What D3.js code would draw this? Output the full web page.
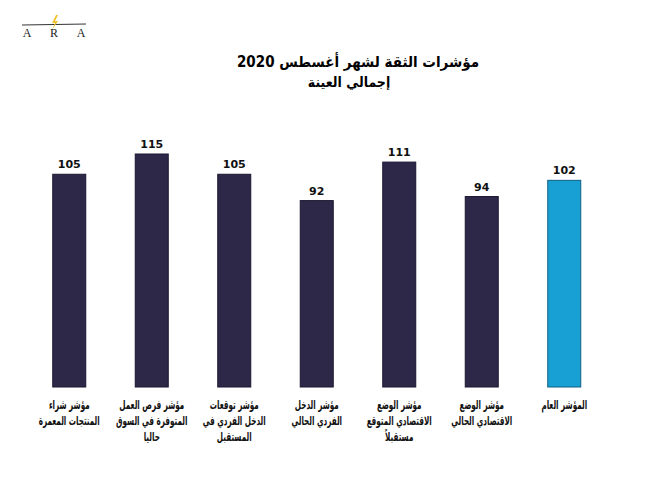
<!DOCTYPE html>
<html>
<head>
<meta charset="utf-8">
<script src="https://cdn.jsdelivr.net/npm/d3@7"></script>
<style>
  body { margin: 0; background: #fff; }
  svg { display: block; }
</style>
</head>
<body>
<script>
// values, left to right
const categories = [
  ["مؤشر شراء", "المنتجات المعمرة"],
  ["مؤشر فرص العمل", "المتوفرة في السوق", "حاليا"],
  ["مؤشر توقعات", "الدخل الفردي في", "المستقبل"],
  ["مؤشر الدخل", "الفردي الحالي"],
  ["مؤشر الوضع", "الاقتصادي المتوقع", "مستقبلاً"],
  ["مؤشر الوضع", "الاقتصادي الحالي"],
  ["المؤشر العام"]
]
const values = [105, 115, 105, 92, 111, 94, 102]
const highlight = [false, false, false, false, false, false, true]
const title = "مؤشرات الثقة لشهر أغسطس 2020"
const subtitle = "إجمالي العينة"

const w = 667, h = 500
const font = "'DejaVu Sans Condensed', 'DejaVu Sans', sans-serif"

const svg = d3.select("body").append("svg")
  .attr("width", w)
  .attr("height", h)

const data = values.map((v, i) => ({ i: i, value: v, label: categories[i], hl: highlight[i] }))

const xScale = d3.scaleBand()
  .domain(d3.range(values.length))
  .range([28, 605.5])
  .paddingInner(0.6)
  .paddingOuter(0.3)

const yScale = d3.scaleLinear()
  .domain([0, 115])
  .range([387, 154])

// logo
const logo = svg.append("g")
logo.append("line")
  .attr("x1", 22).attr("x2", 86)
  .attr("y1", 25).attr("y2", 24)
  .attr("stroke", "#333").attr("stroke-width", 1)
logo.append("path")
  .attr("d", "M56,15 L52,23 L55,23 L52,30 L58,21 L55,21 L58,15 Z")
  .attr("fill", "#f2c230")
logo.selectAll("text")
  .data(["A", "R", "A"])
  .enter()
  .append("text")
  .attr("x", (d, i) => 27 + i * 27)
  .attr("y", 37)
  .attr("text-anchor", "middle")
  .style("font-family", "'Liberation Serif', serif")
  .style("font-size", "12px")
  .style("fill", "#222")
  .text(d => d)

// titles
svg.append("text")
  .attr("x", 358).attr("y", 67)
  .attr("text-anchor", "middle")
  .attr("direction", "rtl")
  .style("font-family", font)
  .style("font-stretch", "condensed")
  .style("font-weight", "bold")
  .style("font-size", "15px")
  .text(title)

svg.append("text")
  .attr("x", 349).attr("y", 87)
  .attr("text-anchor", "middle")
  .attr("direction", "rtl")
  .style("font-family", font)
  .style("font-stretch", "condensed")
  .style("font-weight", "bold")
  .style("font-size", "14px")
  .text(subtitle)

// bars
svg.selectAll("rect.bar")
  .data(data)
  .enter()
  .append("rect")
  .attr("class", "bar")
  .attr("x", d => xScale(d.i))
  .attr("y", d => yScale(d.value))
  .attr("width", xScale.bandwidth())
  .attr("height", d => yScale(0) - yScale(d.value))
  .attr("fill", d => d.hl ? "#189fd3" : "#2e2848")
  .attr("stroke", d => d.hl ? "#0f5f80" : "#1a1630")
  .attr("stroke-width", 1)

// value labels
svg.selectAll("text.val")
  .data(data)
  .enter()
  .append("text")
  .attr("class", "val")
  .attr("x", d => xScale(d.i) + xScale.bandwidth() / 2)
  .attr("y", d => yScale(d.value) - 6)
  .attr("text-anchor", "middle")
  .style("font-family", "'DejaVu Sans', sans-serif")
  .style("font-weight", "bold")
  .style("font-size", "11px")
  .style("fill", "#111")
  .text(d => d.value)

// category labels, one text per line, squeezed to match the narrow source font
const cat = svg.selectAll("g.cat")
  .data(data)
  .enter()
  .append("g")
  .attr("class", "cat")
  .attr("transform", d => "translate(" + (xScale(d.i) + xScale.bandwidth() / 2) + ",409) scale(0.64,1)")

cat.selectAll("text")
  .data(d => d.label)
  .enter()
  .append("text")
  .attr("x", 0)
  .attr("y", (d, i) => i * 16)
  .attr("text-anchor", "middle")
  .attr("direction", "rtl")
  .style("font-family", font)
  .style("font-stretch", "condensed")
  .style("font-weight", "bold")
  .style("font-size", "12.5px")
  .style("fill", "#111")
  .text(d => d)
</script>
</body>
</html>
